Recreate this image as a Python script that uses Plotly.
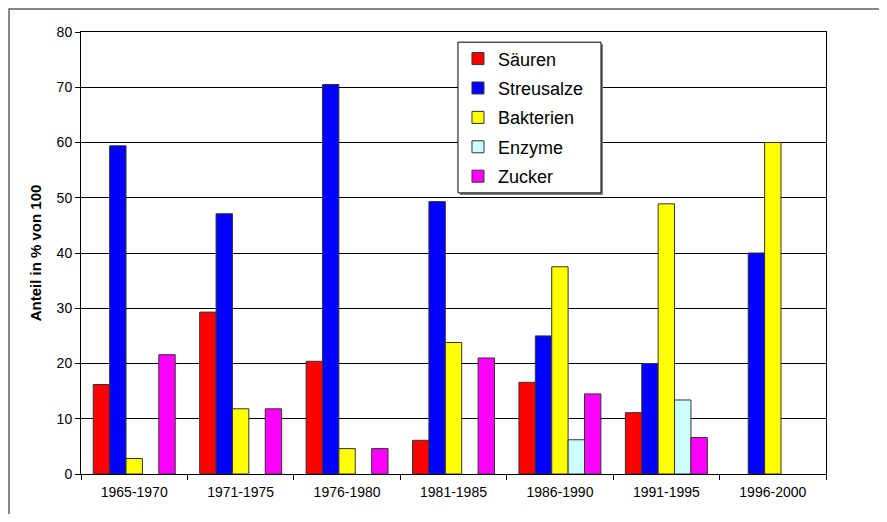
import plotly.graph_objects as go

categories = ["1965-1970", "1971-1975", "1976-1980", "1981-1985",
              "1986-1990", "1991-1995", "1996-2000"]

# None = kein Balken (Wert 0 im Original ohne sichtbaren Balken)
saeuren = [16.2, 29.3, 20.4, 6.1, 16.6, 11.1, None]
streusalze = [59.4, 47.1, 70.5, 49.3, 25.0, 20.0, 40.0]
bakterien = [2.8, 11.8, 4.6, 23.8, 37.5, 48.9, 60.0]
enzyme = [None, None, None, None, 6.2, 13.4, None]
zucker = [21.6, 11.8, 4.6, 21.0, 14.5, 6.6, None]

series = [
    ("Säuren", saeuren, "#ff0000"),
    ("Streusalze", streusalze, "#0000ff"),
    ("Bakterien", bakterien, "#ffff00"),
    ("Enzyme", enzyme, "#ccffff"),
    ("Zucker", zucker, "#ff00ff"),
]

FONT = "Arial, Liberation Sans, sans-serif"

fig = go.Figure()
for name, vals, color in series:
    fig.add_trace(go.Bar(
        name=name,
        x=categories,
        y=vals,
        legendgroup=name,
        marker=dict(color=color, line=dict(color="#333333", width=1)),
    ))

# Legendenkasten als Shape (mit Schatten), Legende selbst transparent
lx0, lx1, ly0, ly1 = 0.506, 0.698, 0.636, 0.977
px_x, px_y = 1 / 745, 1 / 442

# Seite hat 8px body-margin -> Figur kleiner, damit kein Scrollbalken entsteht
fig.update_layout(
    width=879,
    height=506,
    barmode="group",
    bargap=0.23,
    bargroupgap=0,
    plot_bgcolor="white",
    paper_bgcolor="white",
    margin=dict(l=73, r=61, t=24, b=40),
    font=dict(family=FONT, size=12, color="black"),
    showlegend=True,
    legend=dict(
        x=0.506, y=0.981, xanchor="left", yanchor="top",
        bgcolor="rgba(0,0,0,0)", borderwidth=0,
        font=dict(family=FONT, size=18, color="black"),
        tracegroupgap=3,
        traceorder="grouped",
    ),
    xaxis=dict(
        showline=True, linecolor="black", linewidth=1, mirror=True,
        ticks="outside", tickson="boundaries", ticklen=5, tickcolor="black",
        tickfont=dict(size=14), ticklabelstandoff=5, showgrid=False,
    ),
    yaxis=dict(
        range=[0, 80], dtick=10,
        showline=True, linecolor="black", linewidth=1, mirror=True,
        ticks="outside", ticklen=5, tickcolor="black",
        showgrid=True, gridcolor="black", gridwidth=1,
        zeroline=False,
        tickfont=dict(size=14),
        title=dict(text="<b>Anteil in % von 100</b>", font=dict(size=15), standoff=11),
    ),
    shapes=[
        dict(type="rect", xref="paper", yref="paper",
             x0=-0.0966, x1=1.0752, y0=-0.2, y1=1.052,
             line=dict(color="#606060", width=1.5), layer="below"),
        dict(type="rect", xref="paper", yref="paper",
             x0=lx0 + 2 * px_x, x1=lx1 + 2 * px_x,
             y0=ly0 - 2 * px_y, y1=ly1 - 2 * px_y,
             fillcolor="#808080", line=dict(width=0), layer="above"),
        dict(type="rect", xref="paper", yref="paper",
             x0=lx0, x1=lx1, y0=ly0, y1=ly1,
             fillcolor="white", line=dict(color="black", width=1), layer="above"),
    ],
)

fig.write_html("out.html")
